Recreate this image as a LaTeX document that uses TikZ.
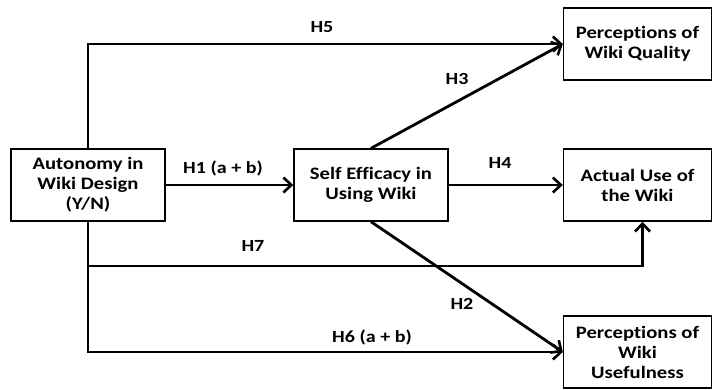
\documentclass[tikz,border=0pt]{standalone}
\usepackage{fontspec}
\setmainfont{Carlito}[FakeStretch=1.18, Ligatures=NoCommon]
\usetikzlibrary{arrows.meta}

\begin{document}
\begin{tikzpicture}[x=1pt, y=-1pt,
	box/.style={draw, line width=1.4pt, align=center, inner sep=0pt,
		minimum width=154pt, minimum height=72pt,
		font=\fontsize{17.5}{20}\selectfont\bfseries},
	link/.style={line width=2.8pt, -{Straight Barb[length=8pt, width=15pt, line width=2.6pt]}},
	hyp/.style={font=\fontsize{17}{19}\selectfont\bfseries}]
	
	\useasboundingbox (0,0) rectangle (713,389);
	
	% constructs
	\node[box] (auto) at (88,185) {Autonomy in\\Wiki Design\\(Y/N)};
	\node[box] (self) at (371,185) {Self Efficacy in\\Using Wiki};
	\node[box, minimum width=148pt] (qual) at (637.5,44) {Perceptions of\\Wiki Quality};
	\node[box, minimum width=148pt] (use) at (637.5,185) {Actual Use of\\the Wiki};
	\node[box, minimum width=148pt] (usef) at (637.5,352) {Perceptions of\\Wiki\\Usefulness};
	
	% branch point of H7
	\coordinate (split) at (88,266);
	
	% paths
	\draw[link] (auto) -- (self);
	\draw[link] (self) -- (use);
	\draw[link] (self.north) -- (qual.west);
	\draw[link] (self.south) -- (usef.west);
	\draw[link] (auto.north) |- (qual.west);
	\draw[link] (auto.south) |- (usef.west);
	\draw[link] (split) -| ([xshift=5pt]use.south);
	
	% hypotheses
	\node[hyp] (h5) at (322,27) {H5};
	\node[hyp] (h3) at (457,79) {H3};
	\node[hyp] (h1) at (223,168) {H1 (a + b)};
	\node[hyp] (h4) at (500,163) {H4};
	\node[hyp] (h7) at (253,246) {H7};
	\node[hyp] (h2) at (462,304) {H2};
	\node[hyp] (h6) at (372,337) {H6 (a + b)};
	
\end{tikzpicture}
\end{document}
